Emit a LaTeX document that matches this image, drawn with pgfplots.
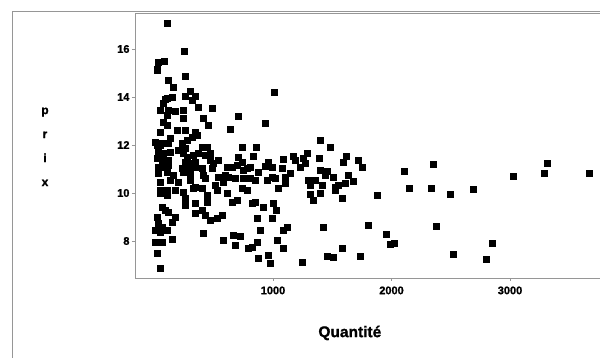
\documentclass[border=0pt]{standalone}
\usepackage{pgfplots}
\pgfplotsset{compat=1.18}
\usepackage{fontspec}
\setmainfont{Liberation Sans}
\newfontfamily\heavy[FakeBold=1.2]{Liberation Sans Bold}
\definecolor{axgray}{RGB}{150,150,150}
\begin{document}
\begin{tikzpicture}[x=1pt,y=1pt]
\useasboundingbox (0,0) rectangle (600,358);
\draw[axgray, line width=0.8pt] (12.5,-5) -- (12.5,347) -- (620,347);
\begin{axis}[
  at={(135pt,80pt)}, anchor=south west,
  scale only axis, width=485pt, height=265pt,
  xmin=-164.6, xmax=3928, ymin=6.458, ymax=17.5,
  xtick={1000,2000,3000}, ytick={8,10,12,14,16},
  tick pos=left, tick align=outside, major tick length=3pt,
  axis line style={axgray, line width=0.8pt},
  tick style={axgray, line width=0.6pt},
  /pgf/number format/assume math mode=true,
  /pgf/number format/1000 sep={},
  ticklabel style={font=\heavy\fontsize{11}{12}\selectfont},
  xticklabel style={yshift=-2pt},
  yticklabel style={xshift=1pt},
  xlabel={Quantité},
  every axis x label/.style={at={(axis description cs:0.443,-0.2075)}, anchor=center, font=\heavy\fontsize{15.5}{18}\selectfont},
  ylabel={p\\r\\i\\x},
  every axis y label/.style={at={(axis description cs:-0.1856,0.495)}, anchor=center, align=center, font=\heavy\fontsize{12}{24}\selectfont},
  clip=true,
]
\addplot[only marks, mark=square*, mark size=2.9pt, black] coordinates {
(105,17.08) (249,15.92) (30,15.46) (80,15.5) (21,15.17) (25,15.1)
(257,14.88) (114,14.71) (156,14.42) (300,14.25) (257,14.04) (316,13.88)
(342,14.04) (89,13.92) (148,14.0) (72,13.75) (105,13.96) (1008,14.21)
(46,13.46) (114,13.46) (173,13.42) (241,13.46) (367,13.58) (485,13.54)
(705,13.21) (105,13.25) (72,12.96) (105,12.83) (241,13.13) (409,13.13)
(451,12.83) (637,12.67) (46,12.54) (190,12.63) (257,12.63) (342,12.54)
(359,12.42) (316,12.33) (274,12.21) (232,12.08) (131,12.29) (4,12.13)
(46,12.0) (21,12.0) (63,12.08) (114,12.08) (198,11.79) (257,11.88)
(401,11.92) (443,11.92) (738,11.92) (30,11.71) (72,11.67) (131,11.71)
(241,11.67) (274,11.5) (325,11.58) (367,11.67) (426,11.58) (468,11.67)
(21,11.46) (63,11.38) (114,11.38) (257,11.29) (300,11.25) (342,11.29)
(468,11.38) (494,11.25) (536,11.38) (705,11.5) (30,11.08) (72,11.08)
(114,11.17) (232,11.04) (283,11.04) (342,11.08) (401,11.04) (485,11.04)
(612,11.08) (654,11.08) (696,11.17) (747,10.96) (30,10.83) (105,10.88)
(156,10.75) (241,10.88) (300,10.83) (409,10.75) (536,10.67) (595,10.75)
(679,10.63) (747,10.63) (46,10.46) (131,10.54) (198,10.46) (300,10.54)
(342,10.25) (426,10.63) (511,10.33) (578,10.46) (620,10.67) (46,10.13)
(105,10.13) (173,10.13) (325,10.21) (401,10.21) (527,10.13) (738,10.21)
(46,10.0) (105,9.92) (241,10.04) (257,9.79) (342,9.58) (443,9.92)
(443,9.63) (612,10.0) (654,9.63) (696,9.71) (63,9.42) (89,9.29)
(114,9.21) (257,9.5) (401,9.29) (426,9.08) (342,9.17) (468,8.88)
(527,8.96) (570,9.08) (173,9.0) (21,9.0) (30,8.75) (63,8.58)
(4,8.46) (46,8.38) (105,8.46) (148,8.79) (409,8.33) (662,8.25)
(722,8.21) (679,7.83) (4,7.96) (63,7.96) (148,8.08) (578,8.04)
(21,7.5) (46,6.88)
(932,12.92) (1397,12.21) (1481,11.92) (857,11.92) (1287,11.67) (1169,11.54)
(1084,11.42) (1253,11.46) (1388,11.46) (1616,11.54) (1717,11.38) (831,11.54)
(958,11.29) (738,11.29) (806,11.08) (932,11.13) (1076,11.04) (1186,11.38)
(1270,11.25) (1591,11.29) (1751,11.08)
(781,11.04) (992,11.08) (1228,11.08) (1397,10.96) (1456,10.92)
(806,10.63) (873,10.88) (848,10.54) (949,10.54) (992,10.67) (1017,10.63)
(1101,10.67) (1143,10.83) (1101,10.42) (1042,10.21) (1295,10.54) (1355,10.54)
(1312,10.33) (1414,10.33) (1439,10.75) (1506,10.67) (1523,10.25) (1549,10.33)
(1608,10.42) (1633,10.75) (1675,10.5) (781,10.13) (1312,9.96) (1338,9.71)
(1397,10.0) (1523,10.13) (1582,9.79) (823,9.58) (848,9.63) (916,9.42)
(1000,9.58) (1025,9.29) (865,8.96) (992,8.96) (890,8.46) (1084,8.46)
(1118,8.58) (1422,8.58) (1802,8.67) (789,7.71) (823,7.75) (865,7.96)
(1034,8.04) (1084,7.71) (873,7.29) (958,7.42) (975,7.08) (1245,7.13)
(1456,7.38) (1506,7.33) (1582,7.71) (1734,7.38)
(1878,9.92) (2105,10.92) (2350,11.21) (2148,10.21) (2333,10.21) (2494,9.96)
(2688,10.17) (3025,10.71) (3287,10.83) (3312,11.25) (3667,10.83)
(1954,8.29) (1987,7.88) (2021,7.92) (2376,8.63) (2519,7.46) (2798,7.25) (2848,7.92)
};
\end{axis}
\end{tikzpicture}
\end{document}
